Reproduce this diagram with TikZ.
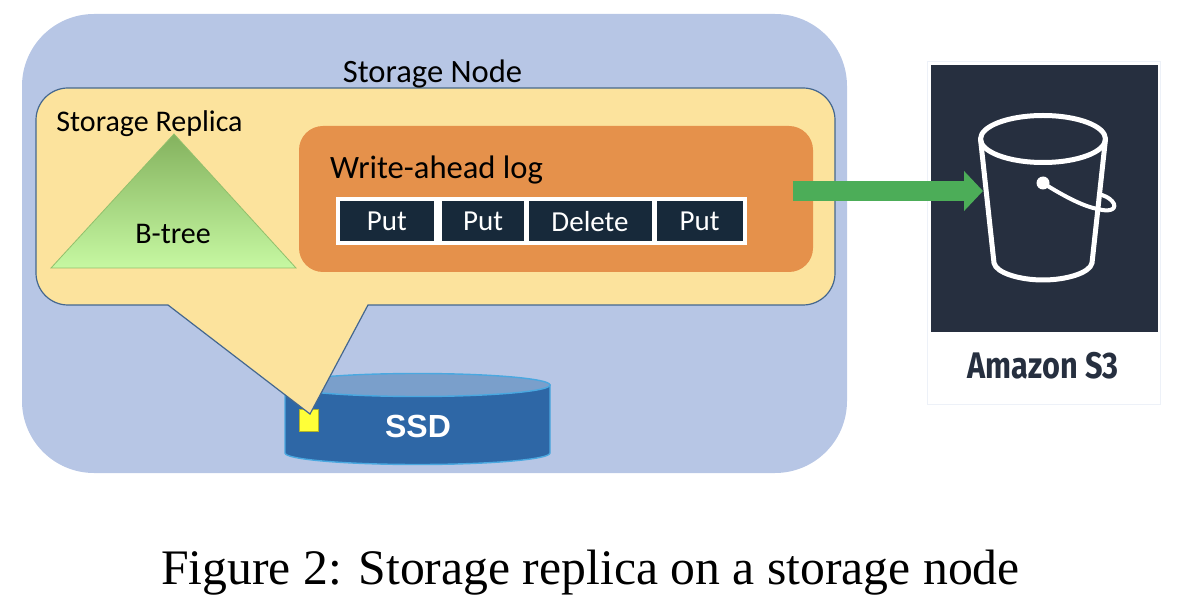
\documentclass[tikz,border=0pt]{standalone}
\usepackage{fontspec}
\setmainfont{Carlito}
\newfontfamily\figfont{Liberation Serif}
\newfontfamily\arialfont{Liberation Sans}
\newfontfamily\firafont{Fira Sans}
\usetikzlibrary{arrows.meta,positioning}
\definecolor{cnodo}{HTML}{B7C6E5}
\definecolor{creplica}{HTML}{FCE39D}
\definecolor{cborde}{HTML}{44678F}
\definecolor{clog}{HTML}{E5914B}
\definecolor{ccelda}{HTML}{17293A}
\definecolor{cflecha}{HTML}{4CAD58}
\definecolor{cbalde}{HTML}{262F3F}
\definecolor{cdisco}{HTML}{2E67A6}
\definecolor{cdiscot}{HTML}{7A9FCB}
\definecolor{cdiscob}{HTML}{4AA8E0}
\definecolor{cbloque}{HTML}{FFFF38}
\definecolor{carbolt}{HTML}{84B25E}
\definecolor{carbolb}{HTML}{C6F8A2}
\tikzset{
  caja/.style={rectangle,inner sep=0pt,outer sep=0pt},
  nodoalm/.style={caja,fill=cnodo,rounded corners=72pt,minimum width=825pt,minimum height=459pt},
  replica/.style={draw=cborde,fill=creplica,line width=1.2pt},
  logbox/.style={caja,fill=clog,rounded corners=24pt,minimum width=514pt,minimum height=146pt},
  banda/.style={caja,fill=white,minimum width=411pt,minimum height=48.5pt},
  celda/.style={caja,fill=ccelda,text=white,minimum height=40.5pt,
                font=\fontsize{29}{32}\selectfont},
  et/.style={inner sep=0pt,text=black,font=\fontsize{30}{34}\selectfont},
  etg/.style={et,font=\fontsize{32.6}{36}\selectfont},
  arbol/.style={draw=carbolt!80!carbolb,top color=carbolt,bottom color=carbolb,line width=0.8pt},
  disco/.style={draw=cdiscob,fill=cdisco,line width=1.4pt},
  discot/.style={draw=cdiscob,fill=cdiscot,line width=1.4pt},
  flecha/.style={-{Triangle[length=19pt,width=39pt]},draw=cflecha,line width=20pt},
  trazo/.style={draw=white,line width=5pt,line join=round,line cap=round},
}
\begin{document}
\begin{tikzpicture}[x=1pt,y=-1pt]
\useasboundingbox (0,0) rectangle (1180,601);

\node[nodoalm] (nodo) at (434.5,243.5) {};

% disco
\draw[disco] (285,385) -- (285,453) arc[start angle=180,end angle=0,x radius=132.5,y radius=11.5]
   -- (550,385) -- cycle;
\draw[discot] (417.5,385) ellipse[x radius=132.5,y radius=11.5];
\node[caja,fill=cbloque,draw=cbloque!70!black,line width=0.5pt,minimum width=19pt,minimum height=22pt] (bloque) at (308.5,420) {};
\node[inner sep=0pt,text=white,font=\arialfont\bfseries\fontsize{32}{36}\selectfont] (ssd) at (418,426) {SSD};

\draw[replica] (168,305) -- (310,414) -- (368,305) [rounded corners=32pt] -- (835,305)
   -- (835,88) -- (36,88) -- (36,305) [sharp corners] -- cycle;

\node[etg] (tnodo) at (432.5,74) {Storage Node};
\shadedraw[arbol] (174,134) -- (296,268) -- (51,268) -- cycle;
\node[et] (treplica) at (149.5,124) {Storage Replica};
\node[et] (tarbol) at (173,234) {B-tree};

\node[logbox] (log) at (556,199) {};
\node[etg,anchor=west] (tlog) at (330,170) {Write-ahead log};
\node[banda] (cola) at (541.5,221.25) {};
\node[celda,minimum width=93.5pt] (put1) at (386.75,221.25) {Put};
\node[celda,minimum width=82pt]   (put2) at (483,221.25) {Put};
\node[celda,minimum width=123pt]  (del)  at (590,221.25) {Delete};
\node[celda,minimum width=86pt]   (put3) at (699.5,221.25) {Put};

% tarjeta S3
\node[caja,fill=white,draw=cnodo!25,line width=0.6pt,minimum width=233pt,minimum height=343pt] (tarjeta) at (1043.5,232.5) {};
\node[caja,fill=cbalde,minimum width=227pt,minimum height=267pt] (s3) at (1044.5,198.5) {};
\node[inner sep=0pt,text=cbalde,xscale=0.83,font=\firafont\bfseries\fontsize{37}{40}\selectfont] (ts3) at (1043,366) {Amazon S3};

% balde
\draw[trazo] (1043,139) ellipse[x radius=62.5,y radius=23.5];
\draw[trazo] (980.5,139) -- (994,263) .. controls (996,273) and (1020,280) .. (1043,280)
   .. controls (1066,280) and (1090,273) .. (1092,263) -- (1105.5,139);
\draw[draw=white,line width=4pt,line cap=round] (1043,183) .. controls (1065,197) and (1085,207) .. (1098,209)
   .. controls (1108,212) and (1116,210) .. (1114,204) .. controls (1112,200) and (1108,197) .. (1102,195);
\node[circle,fill=white,inner sep=0pt,minimum size=13pt] (asa) at (1043,183) {};

\coordinate (salida) at (792.5,191);
\coordinate (punta) at (983,191);
\draw[flecha] (salida) -- (punta);

\node[inner sep=0pt,text=black,font=\figfont\fontsize{49.7}{54}\selectfont] (caption) at (590.5,573) {Figure 2: Storage replica on a storage node};
\end{tikzpicture}
\end{document}
